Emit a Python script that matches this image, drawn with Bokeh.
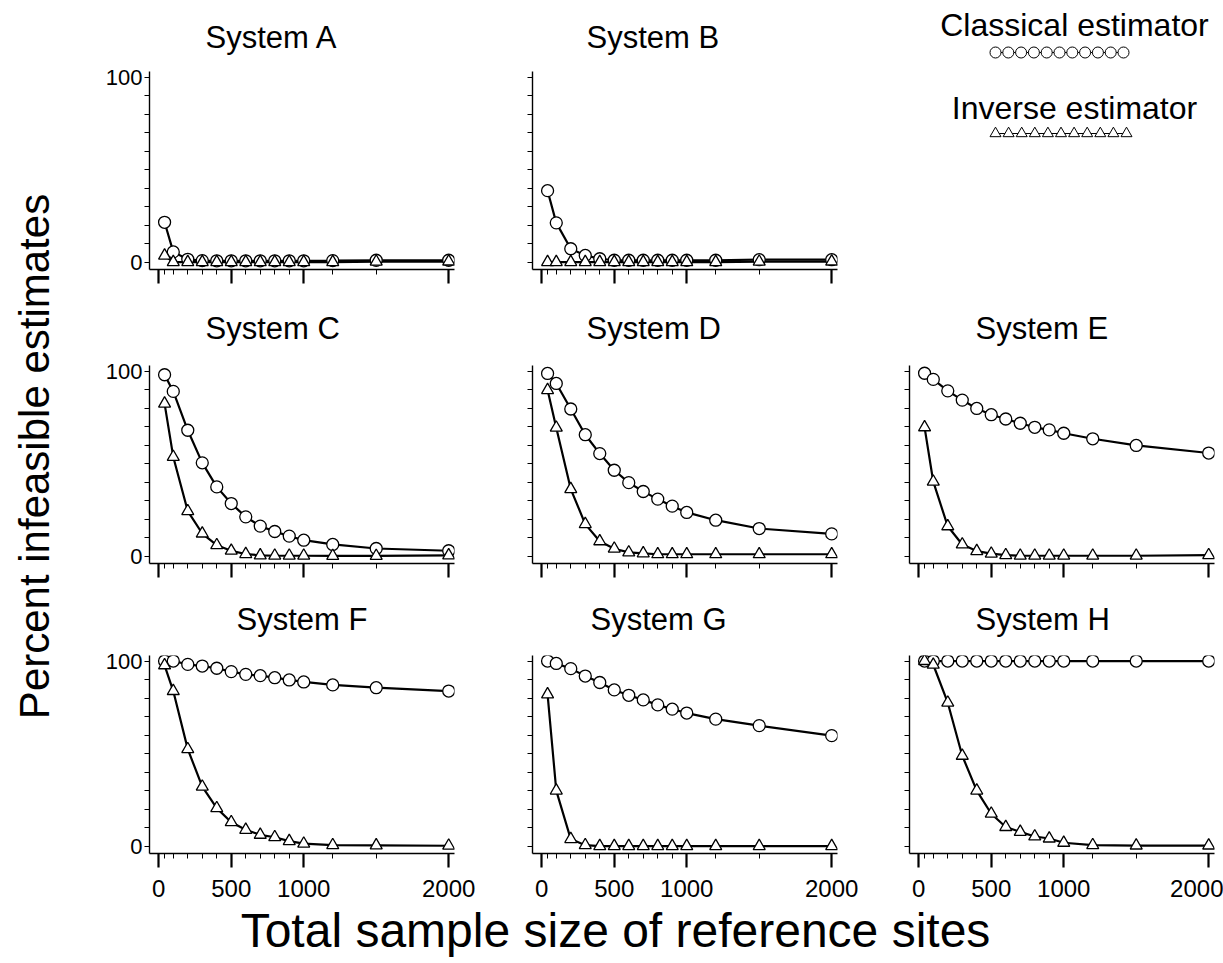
import numpy as np
from bokeh.plotting import figure
from bokeh.layouts import row, column
from bokeh.models import Range1d, FixedTicker, CustomJSTickFormatter
from bokeh.embed import file_html
from bokeh.resources import INLINE
from bokeh.core.properties import value

# ---------------- data ----------------
sample_size = [40, 100, 200, 300, 400, 500, 600, 700, 800, 900, 1000, 1200, 1500, 2000]

x_major_ticks = [0, 500, 1000, 2000]
x_tick_labels = ["0", "500", "1000", "2000"]
y_major_ticks = [0, 100]
y_tick_labels = ["0", "100"]
y_minor_ticks = [10, 20, 30, 40, 50, 60, 70, 80, 90]

systems = ["A", "B", "C", "D", "E", "F", "G", "H"]

classical_A = [21.5, 5.5, 1.5, 0.8, 0.7, 0.7, 0.7, 0.7, 0.7, 0.7, 0.7, 0.8, 1.0, 1.0]
inverse_A = [3.5, 0.0, 0.0, 0.0, 0.0, 0.0, 0.0, 0.0, 0.0, 0.0, 0.0, 0.0, 0.2, 0.3]

classical_B = [38.6, 21.2, 7.2, 3.6, 1.8, 1.0, 1.0, 1.0, 1.0, 1.0, 1.0, 1.0, 1.3, 1.3]
inverse_B = [0.0, 0.0, 0.0, 0.0, 0.0, 0.0, 0.0, 0.0, 0.0, 0.0, 0.0, 0.0, 0.2, 0.3]

classical_C = [98.0, 89.0, 68.0, 50.4, 37.4, 28.4, 21.2, 16.2, 13.3, 10.8, 8.6, 6.3, 4.1, 2.9]
inverse_C = [82.4, 53.6, 24.3, 12.2, 5.9, 2.9, 1.1, 0.4, 0.2, 0.2, 0.2, 0.1, 0.1, 0.4]

classical_D = [98.7, 93.3, 79.5, 65.6, 55.4, 46.4, 39.7, 34.9, 30.8, 27.0, 23.6, 19.4, 14.9, 12.0]
inverse_D = [89.7, 69.4, 36.2, 17.3, 8.0, 4.0, 2.0, 1.5, 1.0, 1.0, 1.0, 1.0, 1.0, 1.0]

classical_E = [98.8, 95.5, 89.3, 84.3, 79.8, 76.4, 74.1, 71.8, 69.6, 68.2, 66.4, 63.4, 59.8, 55.7]
inverse_E = [69.6, 40.2, 16.1, 6.3, 2.7, 1.3, 0.5, 0.2, 0.2, 0.2, 0.2, 0.2, 0.2, 0.5]

classical_F = [100.0, 100.0, 98.2, 97.3, 96.1, 94.3, 92.8, 92.1, 91.0, 89.8, 88.7, 87.1, 85.6, 83.8]
inverse_F = [97.7, 83.8, 52.4, 32.1, 20.5, 12.9, 8.8, 6.1, 4.8, 2.7, 1.3, 0.5, 0.4, 0.2]

classical_G = [100.0, 98.7, 95.9, 91.9, 88.4, 84.4, 81.5, 79.0, 76.3, 74.0, 71.9, 68.6, 65.1, 59.7]
inverse_G = [82.0, 30.0, 3.8, 0.5, 0.0, 0.0, 0.0, 0.0, 0.0, 0.0, 0.0, 0.0, 0.0, 0.0]

classical_H = [100.0, 100.0, 100.0, 100.0, 100.0, 100.0, 100.0, 100.0, 100.0, 100.0, 100.0, 100.0, 100.0, 100.0]
inverse_H = [100.0, 98.0, 77.5, 48.8, 30.0, 17.5, 10.3, 7.7, 5.2, 4.1, 1.8, 0.5, 0.3, 0.3]

classical = {"A": classical_A, "B": classical_B, "C": classical_C, "D": classical_D,
             "E": classical_E, "F": classical_F, "G": classical_G, "H": classical_H}
inverse = {"A": inverse_A, "B": inverse_B, "C": inverse_C, "D": inverse_D,
           "E": inverse_E, "F": inverse_F, "G": inverse_G, "H": inverse_H}

legend_labels = ["Classical estimator", "Inverse estimator"]
y_axis_title = "Percent infeasible estimates"
x_axis_title = "Total sample size of reference sites"

# ---------------- style / layout ----------------
FONT = "Liberation Sans"
TITLE_SIZE = "31px"

col_width = [430, 383, 350]
col_left = [89, 42, 36]
col_right = [36, 36, 9]
row_height = [287, 294, 320]
row_top = [71, 78, 74]
row_bottom = [18, 18, 48]
title_standoff = [33, 39, 37]

title_offset = {"A": 56, "B": 54, "C": 56, "D": 54, "E": 66, "F": 87, "G": 58, "H": 66}

positions = {"A": (0, 0), "B": (0, 1), "C": (1, 0), "D": (1, 1), "E": (1, 2),
             "F": (2, 0), "G": (2, 1), "H": (2, 2)}


def make_panel(name):
    r, c = positions[name]
    p = figure(width=col_width[c], height=row_height[r],
               x_range=Range1d(-64, 2040), y_range=Range1d(-4, 103),
               output_backend="svg", toolbar_location=None,
               min_border_left=col_left[c], min_border_right=col_right[c],
               min_border_top=row_top[r], min_border_bottom=row_bottom[r],
               title="System " + name)
    p.outline_line_color = None
    p.background_fill_color = "white"
    p.border_fill_color = "white"
    p.xgrid.visible = False
    p.ygrid.visible = False

    p.title.text_font = FONT
    p.title.text_font_size = TITLE_SIZE
    p.title.text_font_style = "normal"
    p.title.text_color = "black"
    p.title.align = "left"
    p.title.offset = title_offset[name]
    p.title.standoff = title_standoff[r]

    xa = p.xaxis[0]
    xa.ticker = FixedTicker(ticks=x_major_ticks, minor_ticks=sample_size)
    xa.axis_line_width = 1.6
    xa.axis_line_color = "black"
    xa.major_tick_out = 14
    xa.major_tick_in = 0
    xa.major_tick_line_width = 2.2
    xa.minor_tick_out = 5
    xa.minor_tick_in = 0
    xa.minor_tick_line_width = 1
    xa.major_label_text_font = FONT
    xa.major_label_text_color = "black"
    if r == 2:
        xa.major_label_standoff = 12
        xa.major_label_text_font_size = "24px"
        xa.major_label_overrides = {t: l for t, l in zip(x_major_ticks, x_tick_labels)}
    else:
        xa.major_label_standoff = 0
        xa.major_label_text_font_size = "1px"
        xa.formatter = CustomJSTickFormatter(code="return ''")

    ya = p.yaxis[0]
    ya.ticker = FixedTicker(ticks=y_major_ticks, minor_ticks=y_minor_ticks)
    ya.axis_line_width = 1.4
    ya.axis_line_color = "black"
    ya.major_tick_out = 5
    ya.major_tick_in = 0
    ya.major_tick_line_width = 1.2
    ya.minor_tick_out = 5
    ya.minor_tick_in = 0
    ya.minor_tick_line_width = 1
    ya.major_label_standoff = 2
    ya.major_label_text_font = FONT
    ya.major_label_text_font_size = "22px"
    ya.major_label_text_color = "black"
    if c == 0:
        ya.major_label_overrides = {t: l for t, l in zip(y_major_ticks, y_tick_labels)}
    else:
        ya.formatter = CustomJSTickFormatter(code="return ''")

    p.line(sample_size, classical[name], line_color="black", line_width=2.2)
    p.line(sample_size, inverse[name], line_color="black", line_width=2.2)
    p.scatter(sample_size, classical[name], marker="circle", size=12,
              fill_color="white", line_color="black", line_width=1.3)
    p.scatter(sample_size, inverse[name], marker="triangle", size=12,
              fill_color="white", line_color="black", line_width=1.3)
    return p


panels = {s: make_panel(s) for s in systems}

# ----- legend panel (top right); its frame spans page x 909..1214, y 0..row1 -----
leg = figure(width=col_width[2], height=row_height[0],
             x_range=Range1d(909, 1214), y_range=Range1d(row_height[0], 0),
             x_axis_type=None, y_axis_type=None,
             output_backend="svg", toolbar_location=None,
             min_border_left=col_left[2], min_border_right=col_right[2],
             min_border_top=0, min_border_bottom=0)
leg.outline_line_color = None
leg.xgrid.visible = False
leg.ygrid.visible = False
leg_text_x = [1074, 1074]
leg_text_y = [24, 107]
leg.text(x=leg_text_x, y=leg_text_y, text=legend_labels,
         text_font=value(FONT), text_font_size="32px", text_align="center",
         text_baseline="middle", text_color="black")
leg_circle_x = np.linspace(995, 1123, 11)
leg_circle_y = np.full(11, 52.0)
leg_tri_x = np.linspace(995, 1126, 11)
leg_tri_y = np.full(11, 133.0)
leg.line(leg_circle_x, leg_circle_y, line_color="black", line_width=1.2)
leg.scatter(leg_circle_x, leg_circle_y, marker="circle", size=11,
            fill_color="white", line_color="black", line_width=1)
leg.line(leg_tri_x, leg_tri_y, line_color="black", line_width=1.2)
leg.scatter(leg_tri_x, leg_tri_y, marker="triangle", size=11,
            fill_color="white", line_color="black", line_width=1)

# ----- global axis titles -----
grid_h = sum(row_height)
ylab = figure(width=60, height=grid_h, x_range=Range1d(0, 60), y_range=Range1d(grid_h, 0),
              x_axis_type=None, y_axis_type=None, output_backend="svg",
              toolbar_location=None, min_border=0)
ylab.outline_line_color = None
ylab.xgrid.visible = False
ylab.ygrid.visible = False
ylab.text(x=[34], y=[456], text=[y_axis_title], angle=np.pi / 2,
          text_font=value(FONT), text_font_size="42px", text_align="center",
          text_baseline="middle", text_color="black")

xlab_h = 963 - grid_h
xlab = figure(width=1223, height=xlab_h, x_range=Range1d(0, 1223), y_range=Range1d(963, grid_h),
              x_axis_type=None, y_axis_type=None, output_backend="svg",
              toolbar_location=None, min_border=0)
xlab.outline_line_color = None
xlab.xgrid.visible = False
xlab.ygrid.visible = False
xlab.text(x=[615], y=[930], text=[x_axis_title],
          text_font=value(FONT), text_font_size="48px", text_align="center",
          text_baseline="middle", text_color="black")

grid = row(
    column(panels["A"], panels["C"], panels["F"]),
    column(panels["B"], panels["D"], panels["G"]),
    column(leg, panels["E"], panels["H"]),
)
layout = column(row(ylab, grid), xlab)

open("out.html", "w").write(file_html(layout, INLINE))
